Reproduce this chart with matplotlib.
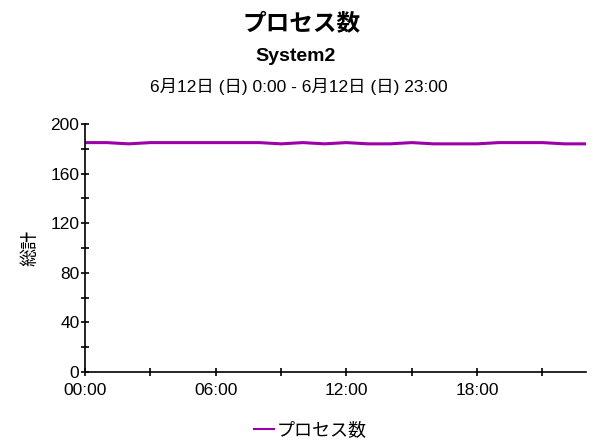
import numpy as np
import matplotlib
matplotlib.use('Agg')
import matplotlib.pyplot as plt
from matplotlib.ticker import MultipleLocator, FuncFormatter

plt.rcParams['font.family'] = ['Liberation Sans', 'Noto Sans CJK JP']

# 1時間ごとのプロセス数
hours = list(range(24))
procs = [185, 185, 184, 185, 185, 185, 185, 185, 185, 184, 185, 184,
         185, 184, 184, 185, 184, 184, 184, 185, 185, 185, 184, 184]

fig = plt.figure(figsize=(5.97, 4.44), dpi=100)
ax = fig.add_axes([0.1424, 0.1622, 0.8392, 0.5585])

ax.plot(hours, procs, color='#9c00a8', lw=2.2, label='プロセス数')

ax.set_xlim(0, 23)
ax.set_ylim(0, 200)
ax.spines['top'].set_visible(False)
ax.spines['right'].set_visible(False)
ax.spines['left'].set_linewidth(1.2)
ax.spines['bottom'].set_linewidth(1.2)

ax.yaxis.set_major_locator(MultipleLocator(40))
ax.yaxis.set_minor_locator(MultipleLocator(20))
ax.xaxis.set_major_locator(MultipleLocator(6))
ax.xaxis.set_minor_locator(MultipleLocator(3))
ax.xaxis.set_major_formatter(FuncFormatter(lambda v, p: '%02d:00' % int(v)))
ax.tick_params(which='both', direction='inout', length=6, width=1.2, labelsize=12.5)
ax.tick_params(axis='y', pad=1)
ax.tick_params(axis='x', pad=5)

ax.set_ylabel('総計', fontsize=13, labelpad=8)

fig.text(0.505, 0.946, 'プロセス数', ha='center', va='center', fontsize=17, fontweight='bold')
fig.text(0.495, 0.872, 'System2', ha='center', va='center', fontsize=14, fontweight='bold')
fig.text(0.50, 0.805, '6月12日 (日) 0:00 - 6月12日 (日) 23:00', ha='center', va='center', fontsize=12.5)

fig.legend(loc='center', bbox_to_anchor=(0.52, 0.03), frameon=False, fontsize=13,
           handlelength=1.1, handletextpad=0.2)
for h in fig.legends[0].get_lines():
    h.set_linewidth(1.5)

fig.savefig('out.png', dpi=100)
